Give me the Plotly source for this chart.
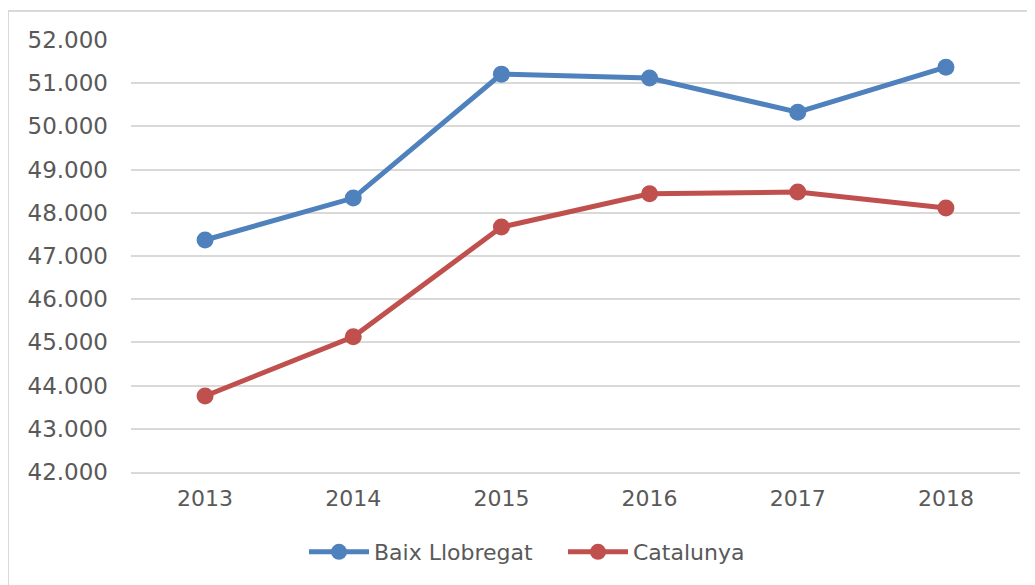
import plotly.graph_objects as go

years = ["2013", "2014", "2015", "2016", "2017", "2018"]
baix = [47370, 48340, 51210, 51120, 50330, 51370]
cat = [43760, 45130, 47670, 48440, 48480, 48110]
y_ticks = [42000, 43000, 44000, 45000, 46000, 47000, 48000, 49000, 50000, 51000, 52000]
y_labels = ["42.000", "43.000", "44.000", "45.000", "46.000", "47.000", "48.000",
            "49.000", "50.000", "51.000", "52.000"]

FONT = "DejaVu Sans"
GREY = "#595959"

fig = go.Figure()
fig.add_trace(go.Scatter(x=years, y=baix, name="Baix Llobregat", mode="lines+markers",
                         line=dict(color="#4F81BD", width=5),
                         marker=dict(color="#4F81BD", size=17)))
fig.add_trace(go.Scatter(x=years, y=cat, name="Catalunya", mode="lines+markers",
                         line=dict(color="#C0504D", width=5),
                         marker=dict(color="#C0504D", size=17)))

fig.update_layout(
    width=1035, height=585,
    margin=dict(l=123, r=23, t=32, b=121),
    paper_bgcolor="white", plot_bgcolor="white",
    font=dict(family=FONT, color=GREY, size=22),
    xaxis=dict(type="category", range=[-0.5, 5.5], showgrid=False, showline=True,
               linecolor="#D9D9D9", linewidth=2, ticks="", tickfont=dict(size=22, color=GREY),
               ticklabelstandoff=6),
    yaxis=dict(range=[42000, 52000], tickvals=y_ticks, ticktext=y_labels,
               showgrid=True, gridcolor="#D9D9D9", gridwidth=2, zeroline=False,
               showline=False, ticks="", tickfont=dict(size=23, color=GREY),
               ticklabelstandoff=22),
    showlegend=True,
    legend=dict(orientation="h", xref="container", x=296 / 1035, xanchor="left",
                yref="container", y=0.07, yanchor="middle",
                font=dict(size=22, color=GREY), itemwidth=60, tracegroupgap=0,
                entrywidth=184, entrywidthmode="pixels"),
)

# chart-area border (partially visible)
fig.add_shape(type="rect", xref="paper", yref="paper",
              x0=(8 - 131) / 889, x1=1.1, y0=-0.5, y1=1 + (40 - 11) / 432,
              line=dict(color="#D9D9D9", width=2), fillcolor="rgba(0,0,0,0)", layer="below")

fig.write_html("out.html")
